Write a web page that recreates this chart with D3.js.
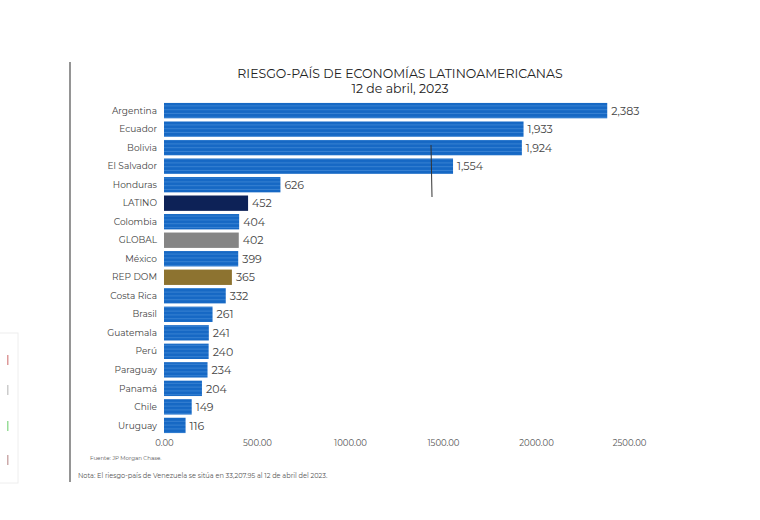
<!DOCTYPE html>
<html>
<head>
<meta charset="utf-8">
<script src="https://cdn.jsdelivr.net/npm/d3@7"></script>
<style>
  body { margin: 0; background: #fff; }
  svg { font-family: 'Montserrat', 'Lato', 'Open Sans', sans-serif; }
</style>
</head>
<body>
<div class="canvas"></div>
<script>
const paises = ['Argentina', 'Ecuador', 'Bolivia', 'El Salvador', 'Honduras', 'LATINO', 'Colombia',
  'GLOBAL', 'México', 'REP DOM', 'Costa Rica', 'Brasil', 'Guatemala', 'Perú', 'Paraguay', 'Panamá', 'Chile', 'Uruguay'];
const riesgo = [2383, 1933, 1924, 1554, 626, 452, 404, 402, 399, 365, 332, 261, 241, 240, 234, 204, 149, 116];
const etiquetas = ['2,383', '1,933', '1,924', '1,554', '626', '452', '404', '402', '399', '365', '332', '261', '241', '240', '234', '204', '149', '116'];
const xTicks = [0, 500, 1000, 1500, 2000, 2500];

const width = 760, height = 520;

const svg = d3.select('.canvas').append('svg')
    .attr('width', width)
    .attr('height', height);

// striped blue fill like the original bars
const defs = svg.append('defs');
const pat = defs.append('pattern')
    .attr('id', 'rayas')
    .attr('patternUnits', 'userSpaceOnUse')
    .attr('width', 10)
    .attr('height', 3.8);
pat.append('rect').attr('width', 10).attr('height', 3.8).attr('fill', '#1668c4');
pat.append('rect').attr('y', 2.8).attr('width', 10).attr('height', 0.8).attr('fill', '#3f88d6');

const barFill = d => {
    if (d === 'LATINO') return '#0d2257';
    if (d === 'GLOBAL') return '#858585';
    if (d === 'REP DOM') return '#8d7330';
    return 'url(#rayas)';
};

// left frame line
svg.append('line')
    .attr('x1', 70).attr('x2', 70)
    .attr('y1', 62).attr('y2', 482)
    .attr('stroke', '#7a7a7a')
    .attr('stroke-width', 1.6);

// bit of the panel peeking in at the left
svg.append('rect')
    .attr('x', -2).attr('y', 333).attr('width', 20).attr('height', 150)
    .attr('fill', '#fff').attr('stroke', '#eee');
[[355, '#d99'], [385, '#ccc'], [421, '#9d9'], [455, '#caa']].forEach(([yy, c]) => {
    svg.append('rect').attr('x', 7).attr('y', yy).attr('width', 1.5).attr('height', 10).attr('fill', c);
});

// Title
svg.append('text')
    .attr('x', 400).attr('y', 78)
    .attr('text-anchor', 'middle')
    .attr('font-size', '12.5px')
    .attr('fill', '#222')
    .text('RIESGO-PAÍS DE ECONOMÍAS LATINOAMERICANAS');
svg.append('text')
    .attr('x', 400).attr('y', 93)
    .attr('text-anchor', 'middle')
    .attr('font-size', '12.5px')
    .attr('fill', '#222')
    .text('12 de abril, 2023');

// Scales
const x = d3.scaleLinear()
    .domain([0, 2500])
    .range([164, 629]);

const y = d3.scaleBand()
    .domain(paises)
    .range([102, 434])
    .paddingInner(0.17)
    .paddingOuter(0.05);

// Bars
svg.selectAll('rect.bar')
    .data(paises)
    .enter()
    .append('rect')
    .attr('class', 'bar')
    .attr('x', x(0))
    .attr('y', d => y(d))
    .attr('width', (d, i) => x(riesgo[i]) - x(0))
    .attr('height', y.bandwidth())
    .attr('fill', barFill);

// Category labels
svg.selectAll('text.cat')
    .data(paises)
    .enter()
    .append('text')
    .attr('class', 'cat')
    .attr('x', 157)
    .attr('y', d => y(d) + y.bandwidth() / 2)
    .attr('dy', '0.35em')
    .attr('text-anchor', 'end')
    .attr('font-size', '9px')
    .attr('fill', '#444')
    .text(d => d);

// Value labels
svg.selectAll('text.val')
    .data(paises)
    .enter()
    .append('text')
    .attr('class', 'val')
    .attr('x', (d, i) => x(riesgo[i]) + 4)
    .attr('y', d => y(d) + y.bandwidth() / 2)
    .attr('dy', '0.38em')
    .attr('font-size', '11px')
    .attr('fill', '#444')
    .text((d, i) => etiquetas[i]);

// x axis (labels only)
const xAxis = d3.axisBottom(x)
    .tickValues(xTicks)
    .tickFormat(d3.format('.2f'))
    .tickSize(0)
    .tickPadding(0);

const ax = svg.append('g')
    .attr('transform', 'translate(0, 440)')
    .call(xAxis);
ax.select('.domain').remove();
ax.selectAll('text')
    .attr('font-size', '8.5px')
    .attr('font-family', "'Montserrat', 'Lato', 'Open Sans', sans-serif")
    .attr('fill', '#555');

// stray pen mark from the original
svg.append('line')
    .attr('x1', 431).attr('x2', 432)
    .attr('y1', 145).attr('y2', 197)
    .attr('stroke', '#333')
    .attr('stroke-width', 1);

// Notes
svg.append('text')
    .attr('x', 90).attr('y', 460)
    .attr('font-size', '5.5px')
    .attr('fill', '#555')
    .text('Fuente: JP Morgan Chase.');
svg.append('text')
    .attr('x', 78).attr('y', 478)
    .attr('font-size', '6.6px')
    .attr('fill', '#555')
    .text('Nota: El riesgo-país de Venezuela se sitúa en 33,207.95 al 12 de abril del 2023.');
</script>
</body>
</html>
